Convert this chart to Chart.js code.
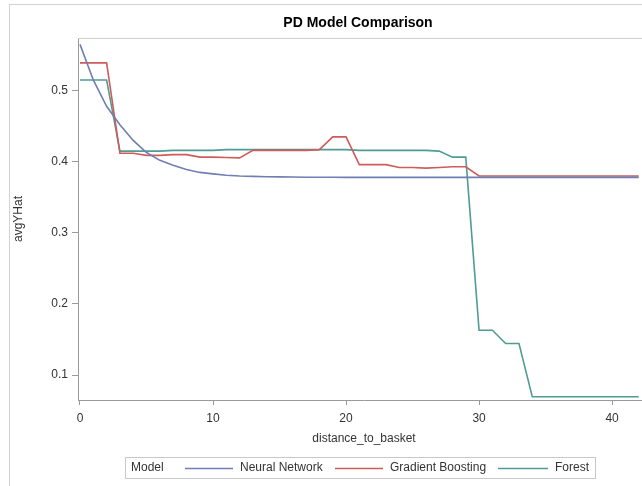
<!DOCTYPE html>
<html>
<head>
<meta charset="utf-8">
<script src="https://cdn.jsdelivr.net/npm/chart.js@4/dist/chart.umd.min.js"></script>
<style>
  html, body { margin: 0; padding: 0; background: #fff; }
  #wrap { position: relative; width: 642px; height: 486px; overflow: hidden; background: #fff; }
  #frame { position: absolute; left: 9px; top: 4px; right: -5px; bottom: -5px; border-left: 1px solid #d3d3d3; border-top: 1px solid #d3d3d3; }
  #c { position: absolute; left: 0; top: 0; }
</style>
</head>
<body>
<div id="wrap">
  <div id="frame"></div>
  <canvas id="c" width="660" height="486"></canvas>
</div>
<script>
const distance = [0,1,2,3,4,5,6,7,8,9,10,11,12,13,14,15,16,17,18,19,20,21,22,23,24,25,26,27,28,29,30,31,32,33,34,35,36,37,38,39,40,41,42];
const neuralNetwork = [0.565,0.515,0.478,0.452,0.430,0.413,0.402,0.395,0.389,0.385,0.383,0.381,0.380,0.3795,0.379,0.3787,0.3785,0.3783,0.3782,0.3781,0.378,0.378,0.378,0.378,0.378,0.378,0.378,0.378,0.378,0.378,0.378,0.378,0.378,0.378,0.378,0.378,0.378,0.378,0.378,0.378,0.378,0.378,0.378];
const gradientBoosting = [0.539,0.539,0.539,0.412,0.412,0.409,0.409,0.410,0.410,0.4065,0.4065,0.406,0.4055,0.416,0.416,0.416,0.416,0.416,0.417,0.435,0.435,0.396,0.396,0.396,0.392,0.392,0.391,0.392,0.393,0.393,0.380,0.380,0.380,0.380,0.380,0.380,0.380,0.380,0.380,0.380,0.380,0.380,0.380];
const forest = [0.515,0.515,0.515,0.415,0.415,0.415,0.415,0.416,0.416,0.416,0.416,0.417,0.417,0.417,0.417,0.417,0.417,0.417,0.417,0.417,0.417,0.416,0.416,0.416,0.416,0.416,0.416,0.415,0.4065,0.4065,0.163,0.163,0.1445,0.1445,0.0695,0.0695,0.0695,0.0695,0.0695,0.0695,0.0695,0.0695,0.0695];
const seriesNames = ['Neural Network','Gradient Boosting','Forest'];
const xTicks = [0,10,20,30,40];
const yTicks = [0.1,0.2,0.3,0.4,0.5];
const colors = ['#6F7EB3','#D05B5B','#4E9C93'];

const FONT = "'Liberation Sans', Arial, sans-serif";
const TXT = '#333333';
const AXIS = '#9a9a9a';

function toPts(arr){ return distance.map((d,i)=>({x:d, y:arr[i]})); }

const overlay = {
  id: 'overlay',
  beforeDatasetsDraw(chart){
    const {ctx, chartArea:a} = chart;
    ctx.save();
    ctx.strokeStyle = '#cfcfcf';
    ctx.lineWidth = 1;
    ctx.beginPath();
    ctx.moveTo(a.left, a.top + 0.5);
    ctx.lineTo(a.right, a.top + 0.5);
    ctx.lineTo(a.right, a.bottom);
    ctx.stroke();
    ctx.restore();
  },
  afterDraw(chart){
    const ctx = chart.ctx;
    ctx.save();
    // title
    ctx.fillStyle = '#000';
    ctx.font = "bold 14px " + FONT;
    ctx.textAlign = 'center';
    ctx.textBaseline = 'middle';
    ctx.fillText('PD Model Comparison', 358, 23);
    // legend
    ctx.strokeStyle = '#c8c8c8';
    ctx.lineWidth = 1;
    ctx.strokeRect(125.5, 457.5, 470, 21);
    ctx.font = "12px " + FONT;
    ctx.fillStyle = TXT;
    ctx.textAlign = 'left';
    const cy = 468;
    ctx.fillText('Model', 131, cy);
    const items = [
      {x1:185, x2:233, tx:240},
      {x1:335, x2:383, tx:390},
      {x1:498, x2:548, tx:555}
    ];
    items.forEach((it,i)=>{
      ctx.strokeStyle = colors[i];
      ctx.lineWidth = 1.5;
      ctx.beginPath();
      ctx.moveTo(it.x1, cy + 0.5);
      ctx.lineTo(it.x2, cy + 0.5);
      ctx.stroke();
      ctx.fillStyle = TXT;
      ctx.fillText(seriesNames[i], it.tx, cy);
    });
    ctx.restore();
  }
};

new Chart(document.getElementById('c'), {
  type: 'line',
  data: {
    datasets: [neuralNetwork, gradientBoosting, forest].map((arr,i)=>({
      label: seriesNames[i],
      data: toPts(arr),
      borderColor: colors[i],
      backgroundColor: colors[i],
      borderWidth: 1.6,
      pointRadius: 0,
      tension: 0,
      fill: false
    }))
  },
  options: {
    responsive: false,
    animation: false,
    events: [],
    layout: { padding: { left: 0, top: 38, right: 10, bottom: 0 } },
    plugins: { legend: { display: false }, title: { display: false }, tooltip: { enabled: false } },
    scales: {
      x: {
        type: 'linear',
        min: -0.15,
        max: 42.85,
        afterBuildTicks(s){ s.ticks = xTicks.map(v=>({value:v})); },
        afterFit(s){ s.height = 86; },
        grid: { drawOnChartArea: false, drawTicks: true, tickLength: 5, color: AXIS },
        border: { display: true, color: AXIS, width: 1 },
        ticks: { color: TXT, font: { family: FONT, size: 12 }, padding: 6, maxRotation: 0, autoSkip: false },
        title: { display: true, text: 'distance_to_basket', color: TXT, font: { family: FONT, size: 12 }, padding: { top: 0, bottom: 40 } }
      },
      y: {
        type: 'linear',
        min: 0.065,
        max: 0.574,
        afterBuildTicks(s){ s.ticks = yTicks.map(v=>({value:v})); },
        afterFit(s){ s.width = 78; },
        grid: { drawOnChartArea: false, drawTicks: true, tickLength: 6, color: AXIS },
        border: { display: true, color: AXIS, width: 1 },
        ticks: { color: TXT, font: { family: FONT, size: 12 }, padding: 4, callback: v => v.toFixed(1) },
        title: { display: true, text: 'avgYHat', color: TXT, font: { family: FONT, size: 12 }, padding: { top: 11, bottom: 0 } }
      }
    }
  },
  plugins: [overlay]
});
</script>
</body>
</html>
